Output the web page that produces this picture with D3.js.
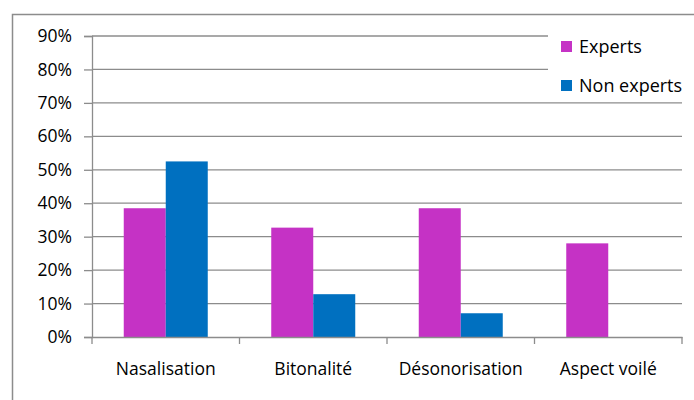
<!DOCTYPE html>
<html><head><meta charset="utf-8">
<script src="https://cdn.jsdelivr.net/npm/d3@7"></script>
<style>html,body{margin:0;padding:0;background:#fff;}svg{display:block;}</style>
</head><body>
<svg id="c" width="694" height="400"></svg>
<script>
const categories = ["Nasalisation", "Bitonalité", "Désonorisation", "Aspect voilé"];
const seriesNames = ["Experts", "Non experts"];
const experts = [38.5, 32.7, 38.5, 28.0];
const nonExperts = [52.5, 12.8, 7.1, 0];
const yTicks = [0, 10, 20, 30, 40, 50, 60, 70, 80, 90];
const colors = ["#C532C5", "#0070C0"];

const svg = d3.select("#c");
const font = "'Open Sans', sans-serif";
const fs = 17.5;
const L = 92, R = 682, T = 36, B = 337;

// outer border
svg.append("rect").attr("x", 12.5).attr("y", 14.5).attr("width", 720).attr("height", 420)
  .attr("fill", "#fff").attr("stroke", "#8c8c8c").attr("stroke-width", 1.5);

const x = d3.scaleBand().domain(categories).range([L, R]).paddingInner(0).paddingOuter(0);
const y = d3.scaleLinear().domain([0, 90]).range([B, T]);
const xs = d3.scaleBand().domain(seriesNames).range([0, x.bandwidth()]).paddingInner(0).paddingOuter(0.756);

// gridlines
svg.append("g").selectAll("line").data(yTicks.filter(d => d > 0)).join("line")
  .attr("x1", L).attr("x2", R).attr("y1", d => y(d)).attr("y2", d => y(d))
  .attr("stroke", "#8c8c8c").attr("stroke-width", 1.3);

// bars
const data = categories.map((c, i) => ({cat: c, vals: [experts[i], nonExperts[i]]}));
svg.append("g").selectAll("g").data(data).join("g")
  .attr("transform", d => `translate(${x(d.cat)},0)`)
  .selectAll("rect").data(d => d.vals.map((v, j) => ({name: seriesNames[j], v, j}))).join("rect")
  .attr("x", d => xs(d.name)).attr("width", xs.bandwidth())
  .attr("y", d => y(d.v)).attr("height", d => B - y(d.v))
  .attr("fill", d => colors[d.j]);

// y axis
const yAxis = svg.append("g").attr("transform", `translate(${L},0)`)
  .call(d3.axisLeft(y).tickValues(yTicks).tickFormat(d => d + "%").tickSizeOuter(0).tickSize(8).tickPadding(12));
yAxis.selectAll("path,line").attr("stroke", "#8c8c8c").attr("stroke-width", 1.3);
yAxis.selectAll("text").attr("font-family", font).attr("font-size", fs).attr("fill", "#000");

// x axis
const xAxis = svg.append("g").attr("transform", `translate(0,${B})`)
  .call(d3.axisBottom(x).tickSize(0).tickPadding(26));
xAxis.select("path").attr("stroke", "#8c8c8c").attr("stroke-width", 1.3);
xAxis.selectAll("text").attr("font-family", font).attr("font-size", fs).attr("fill", "#000");
// category boundary tick marks
svg.append("g").selectAll("line").data(d3.range(categories.length + 1)).join("line")
  .attr("x1", i => L + i * x.step()).attr("x2", i => L + i * x.step())
  .attr("y1", B).attr("y2", B + 7)
  .attr("stroke", "#8c8c8c").attr("stroke-width", 1.3);

// legend
const lg = svg.append("g");
lg.append("rect").attr("x", 548).attr("y", 20).attr("width", 146).attr("height", 80).attr("fill", "#fff");
seriesNames.forEach((n, i) => {
  const yy = 41 + i * 39;
  lg.append("rect").attr("x", 561).attr("y", yy).attr("width", 11).attr("height", 11).attr("fill", colors[i]);
  lg.append("text").attr("x", 579).attr("y", yy + 12).text(n)
    .attr("font-family", font).attr("font-size", 18).attr("fill", "#000");
});
</script>
</body></html>
